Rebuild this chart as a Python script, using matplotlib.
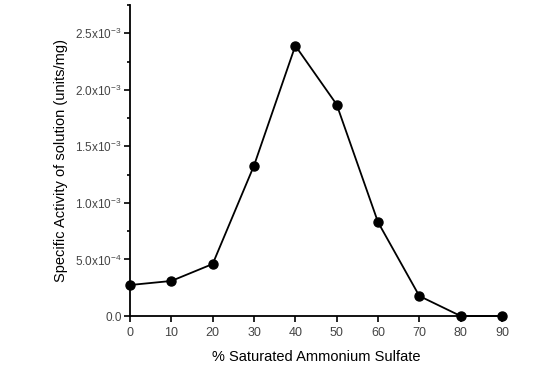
import matplotlib
matplotlib.use("Agg")
import matplotlib.pyplot as plt
from matplotlib.ticker import FixedLocator

plt.rcParams['font.family'] = ['Liberation Sans', 'DejaVu Sans']
plt.rcParams['mathtext.fontset'] = 'custom'
plt.rcParams['mathtext.rm'] = 'Liberation Sans'
plt.rcParams['mathtext.it'] = 'Liberation Sans'

saturation = [0, 10, 20, 30, 40, 50, 60, 70, 80, 90]
activity = [0.274e-3, 0.31e-3, 0.46e-3, 1.33e-3, 2.39e-3, 1.87e-3, 0.83e-3, 0.177e-3, 0.0, 0.0]

yticks = [0.0, 0.5e-3, 1.0e-3, 1.5e-3, 2.0e-3, 2.5e-3]
ytick_labels = ["0.0", r"5.0x10$^{-4}$", r"1.0x10$^{-3}$", r"1.5x10$^{-3}$",
                r"2.0x10$^{-3}$", r"2.5x10$^{-3}$"]
xticks = [0, 10, 20, 30, 40, 50, 60, 70, 80, 90]

fig = plt.figure(figsize=(5.5, 3.83), dpi=100)
ax = fig.add_axes([0.2364, 0.1749, 0.6763, 0.8121])

ax.plot(saturation, activity, color='black', lw=1.3, marker='o', ms=6.5,
        clip_on=False, zorder=3)

ax.set_xlim(0, 90)
ax.set_ylim(0, 2.75e-3)
ax.set_xticks(xticks)
ax.set_xticklabels([str(v) for v in xticks])
ax.set_yticks(yticks)
ax.set_yticklabels(ytick_labels)
ax.yaxis.set_minor_locator(FixedLocator([0.25e-3, 0.75e-3, 1.25e-3, 1.75e-3, 2.25e-3, 2.75e-3]))

for s in ['top', 'right']:
    ax.spines[s].set_visible(False)
for s in ['left', 'bottom']:
    ax.spines[s].set_linewidth(1.3)

ax.tick_params(axis='both', which='major', direction='out', length=4, width=1.2,
               labelsize=8.5, labelcolor='#444444', pad=2)
ax.tick_params(axis='x', which='major', labelsize=9, pad=4)
ax.tick_params(axis='y', which='minor', direction='out', length=2.5, width=1.2)

ax.set_xlabel('% Saturated Ammonium Sulfate', fontsize=10.5, labelpad=8)
ax.set_ylabel('Specific Activity of solution (units/mg)', fontsize=10.5, labelpad=5)

fig.savefig('out.png', dpi=100)
